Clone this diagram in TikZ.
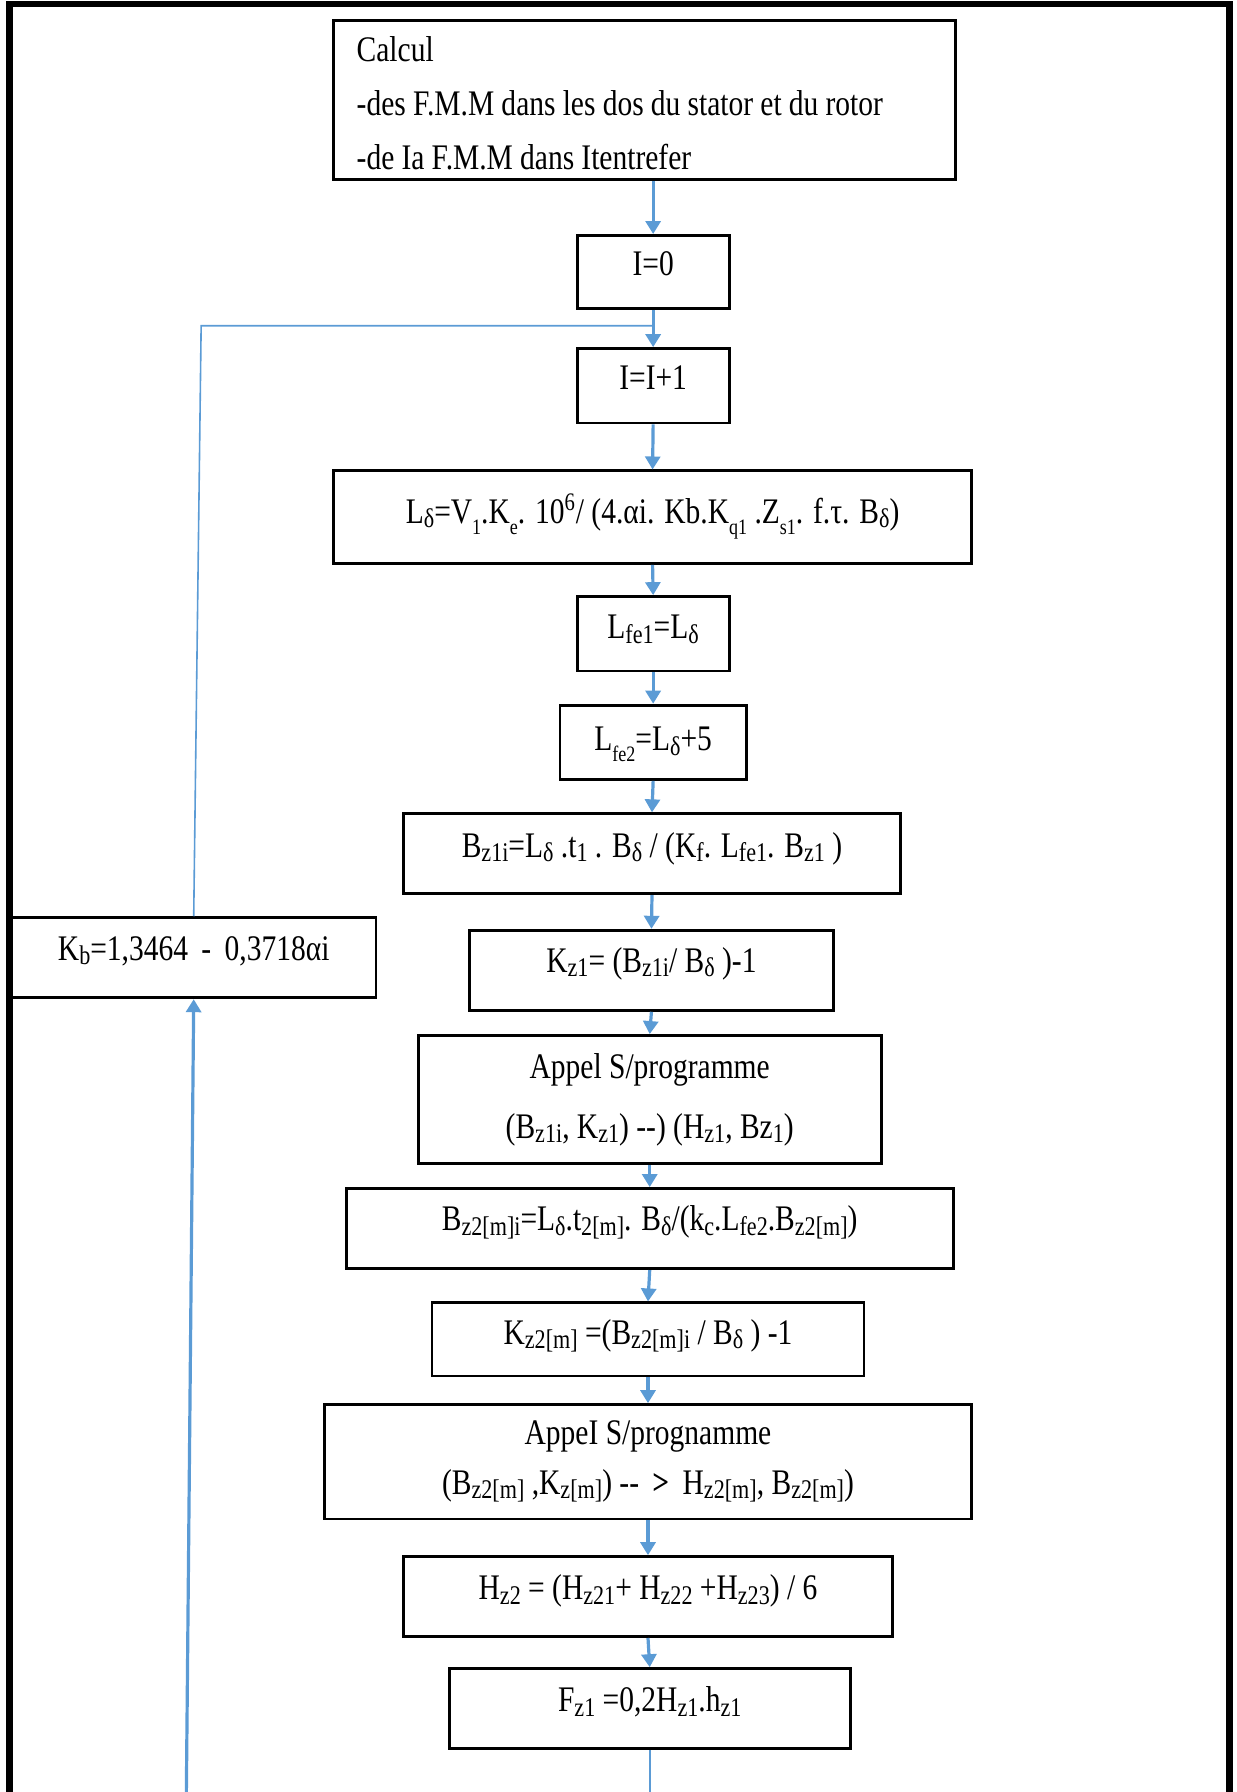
\documentclass[tikz,border=0pt]{standalone}
\usepackage{fontspec}
\setmainfont{Liberation Serif}[FakeStretch=0.82]
\usepackage{tikz}
\usetikzlibrary{arrows.meta,positioning}
\definecolor{flowblue}{RGB}{91,155,213}
\newcommand{\boxfont}{\fontsize{18}{21.6}\selectfont}
\newcommand{\tightspace}{\spaceskip=3.6pt\relax}
\newcommand{\smsub}[1]{\raisebox{-0.12em}{\fontsize{13.5}{13.5}\selectfont #1}}
\newcommand{\lowsub}[1]{\raisebox{-0.3em}{\fontsize{11}{11}\selectfont #1}}

\begin{document}
\begin{tikzpicture}[
  x=0.5717pt, y=-0.5717pt,
  stepbox/.style={draw=black, line width=1.4pt, inner sep=0pt, font=\boxfont},
  arr/.style={-{Triangle[width=7.5pt,length=6.5pt]}, line width=1.6pt, color=flowblue},
  thinline/.style={line width=0.8pt, color=flowblue},
  frame/.style={line width=3.4pt, line join=miter}
]
  \useasboundingbox (0,0) rectangle (1082,1568);
  \draw[frame] (8,1580) -- (8,3.5) -- (1076,3.5) -- (1076,1580);

  \node[stepbox, minimum width=311pt, minimum height=79.5pt, text width=288pt,
        inner xsep=11.4pt, align=left] (calc) at (564,87.5)
    {\tightspace\rule{0pt}{15.7pt}Calcul\\[5.6pt]-des F.M.M dans les dos du stator et du rotor\\[5.6pt]-de Ia F.M.M dans Itentrefer};
  \node[stepbox, minimum width=76pt, text height=20pt, text depth=16.6pt] (init) at (571.5,238) {I=0};
  \node[stepbox, minimum width=76pt, text height=20.6pt, text depth=16.6pt] (inc) at (571.5,337.5) {I=I+1};
  \node[stepbox, minimum width=319pt, text height=26.3pt, text depth=20pt] (ldelta) at (571,452.5)
    {L\smsub{δ}=V\lowsub{1}.K\lowsub{e}. 10\textsuperscript{6}/ (4.αi. Kb.K\lowsub{q1} .Z\lowsub{s1}. f.τ. B\smsub{δ})};
  \node[stepbox, minimum width=76pt, text height=21.2pt, text depth=16pt] (lfe1) at (571.5,554.5)
    {L\smsub{fe1}=L\smsub{δ}};
  \node[stepbox, minimum width=93.2pt, text height=22.9pt, text depth=14.3pt] (lfe2) at (571.5,649.5)
    {L\lowsub{fe2}=L\smsub{δ}+5};
  \node[stepbox, minimum width=248.7pt, text height=21.7pt, text depth=18.3pt] (bz1) at (570.5,747)
    {B\smsub{z1i}=L\smsub{δ} .t\smsub{1} . B\smsub{δ} / (K\smsub{f}. L\smsub{fe1}. B\smsub{z1} )};
  \node[stepbox, minimum width=181.8pt, text height=21.2pt, text depth=18.9pt] (kz1) at (570,849)
    {K\smsub{z1}= (B\smsub{z1i}/ B\smsub{δ} )-1};
  \node[stepbox, minimum width=182.4pt, text height=21.2pt, text depth=18.9pt] (kb) at (169.5,838)
    {K\smsub{b}=1,3464 \,-\, 0,3718αi};
  \node[stepbox, minimum width=231.5pt, minimum height=64pt, align=center] (appel1) at (568.5,962)
    {Appel S/programme\\[8.4pt](B\smsub{z1i}, K\smsub{z1}) -{}-) (H\smsub{z1}, Bz\smsub{1})};
  \node[stepbox, minimum width=303.6pt, text height=21.2pt, text depth=18.9pt] (bz2) at (568.5,1075)
    {B\smsub{z2[m]i}=L\smsub{δ}.t\smsub{2[m]}. B\smsub{δ}/(k\smsub{c}.L\smsub{fe2}.B\smsub{z2[m]})};
  \node[stepbox, minimum width=216.1pt, text height=20.6pt, text depth=16pt] (kz2) at (567,1172)
    {K\smsub{z2[m]} =(B\smsub{z2[m]i} / B\smsub{δ} ) -1};
  \node[stepbox, minimum width=323.6pt, minimum height=57.2pt, align=center] (appel2) at (567,1279)
    {AppeI S/prognamme\\[3.4pt](B\smsub{z2[m]} ,K\smsub{z[m]}) -{}- \,\textbf{>}\, H\smsub{z2[m]}, B\smsub{z2[m]})};
  \node[stepbox, minimum width=244.7pt, text height=21.7pt, text depth=18.3pt] (hz2) at (567,1397)
    {H\smsub{z2} = (H\smsub{z21}+ H\smsub{z22} +H\smsub{z23}) / 6};
  \node[stepbox, minimum width=200.7pt, text height=21.7pt, text depth=18.3pt] (fz1) at (568.5,1495)
    {F\smsub{z1} =0,2H\smsub{z1}.h\smsub{z1}};

  \draw[arr] (init.north |- calc.south) -- (init.north);
  \draw[arr] (init.south)   -- (inc.north);
  \draw[arr] (inc.south)    -- (ldelta.north);
  \draw[arr] (ldelta.south) -- (lfe1.north);
  \draw[arr] (lfe1.south)   -- (lfe2.north);
  \draw[arr] (lfe2.south)   -- (bz1.north);
  \draw[arr] (bz1.south)    -- (kz1.north);
  \draw[arr] (kz1.south)    -- (appel1.north);
  \draw[arr] (appel1.south) -- (bz2.north);
  \draw[arr] (bz2.south)    -- (kz2.north);
  \draw[arr] (kz2.south)    -- (appel2.north);
  \draw[arr] (appel2.south) -- (hz2.north);
  \draw[arr] (hz2.south)    -- (fz1.north);

  % loop back
  \coordinate (exit) at (568.5,1575);
  \coordinate (loopin) at (163,1575);
  \coordinate (back) at (176,285);
  \draw[thinline] (fz1.south) -- (exit);
  \draw[arr] (loopin) -- (kb.south);
  \draw[thinline] (kb.north) -- (back) -- (back -| inc.north);
\end{tikzpicture}
\end{document}
